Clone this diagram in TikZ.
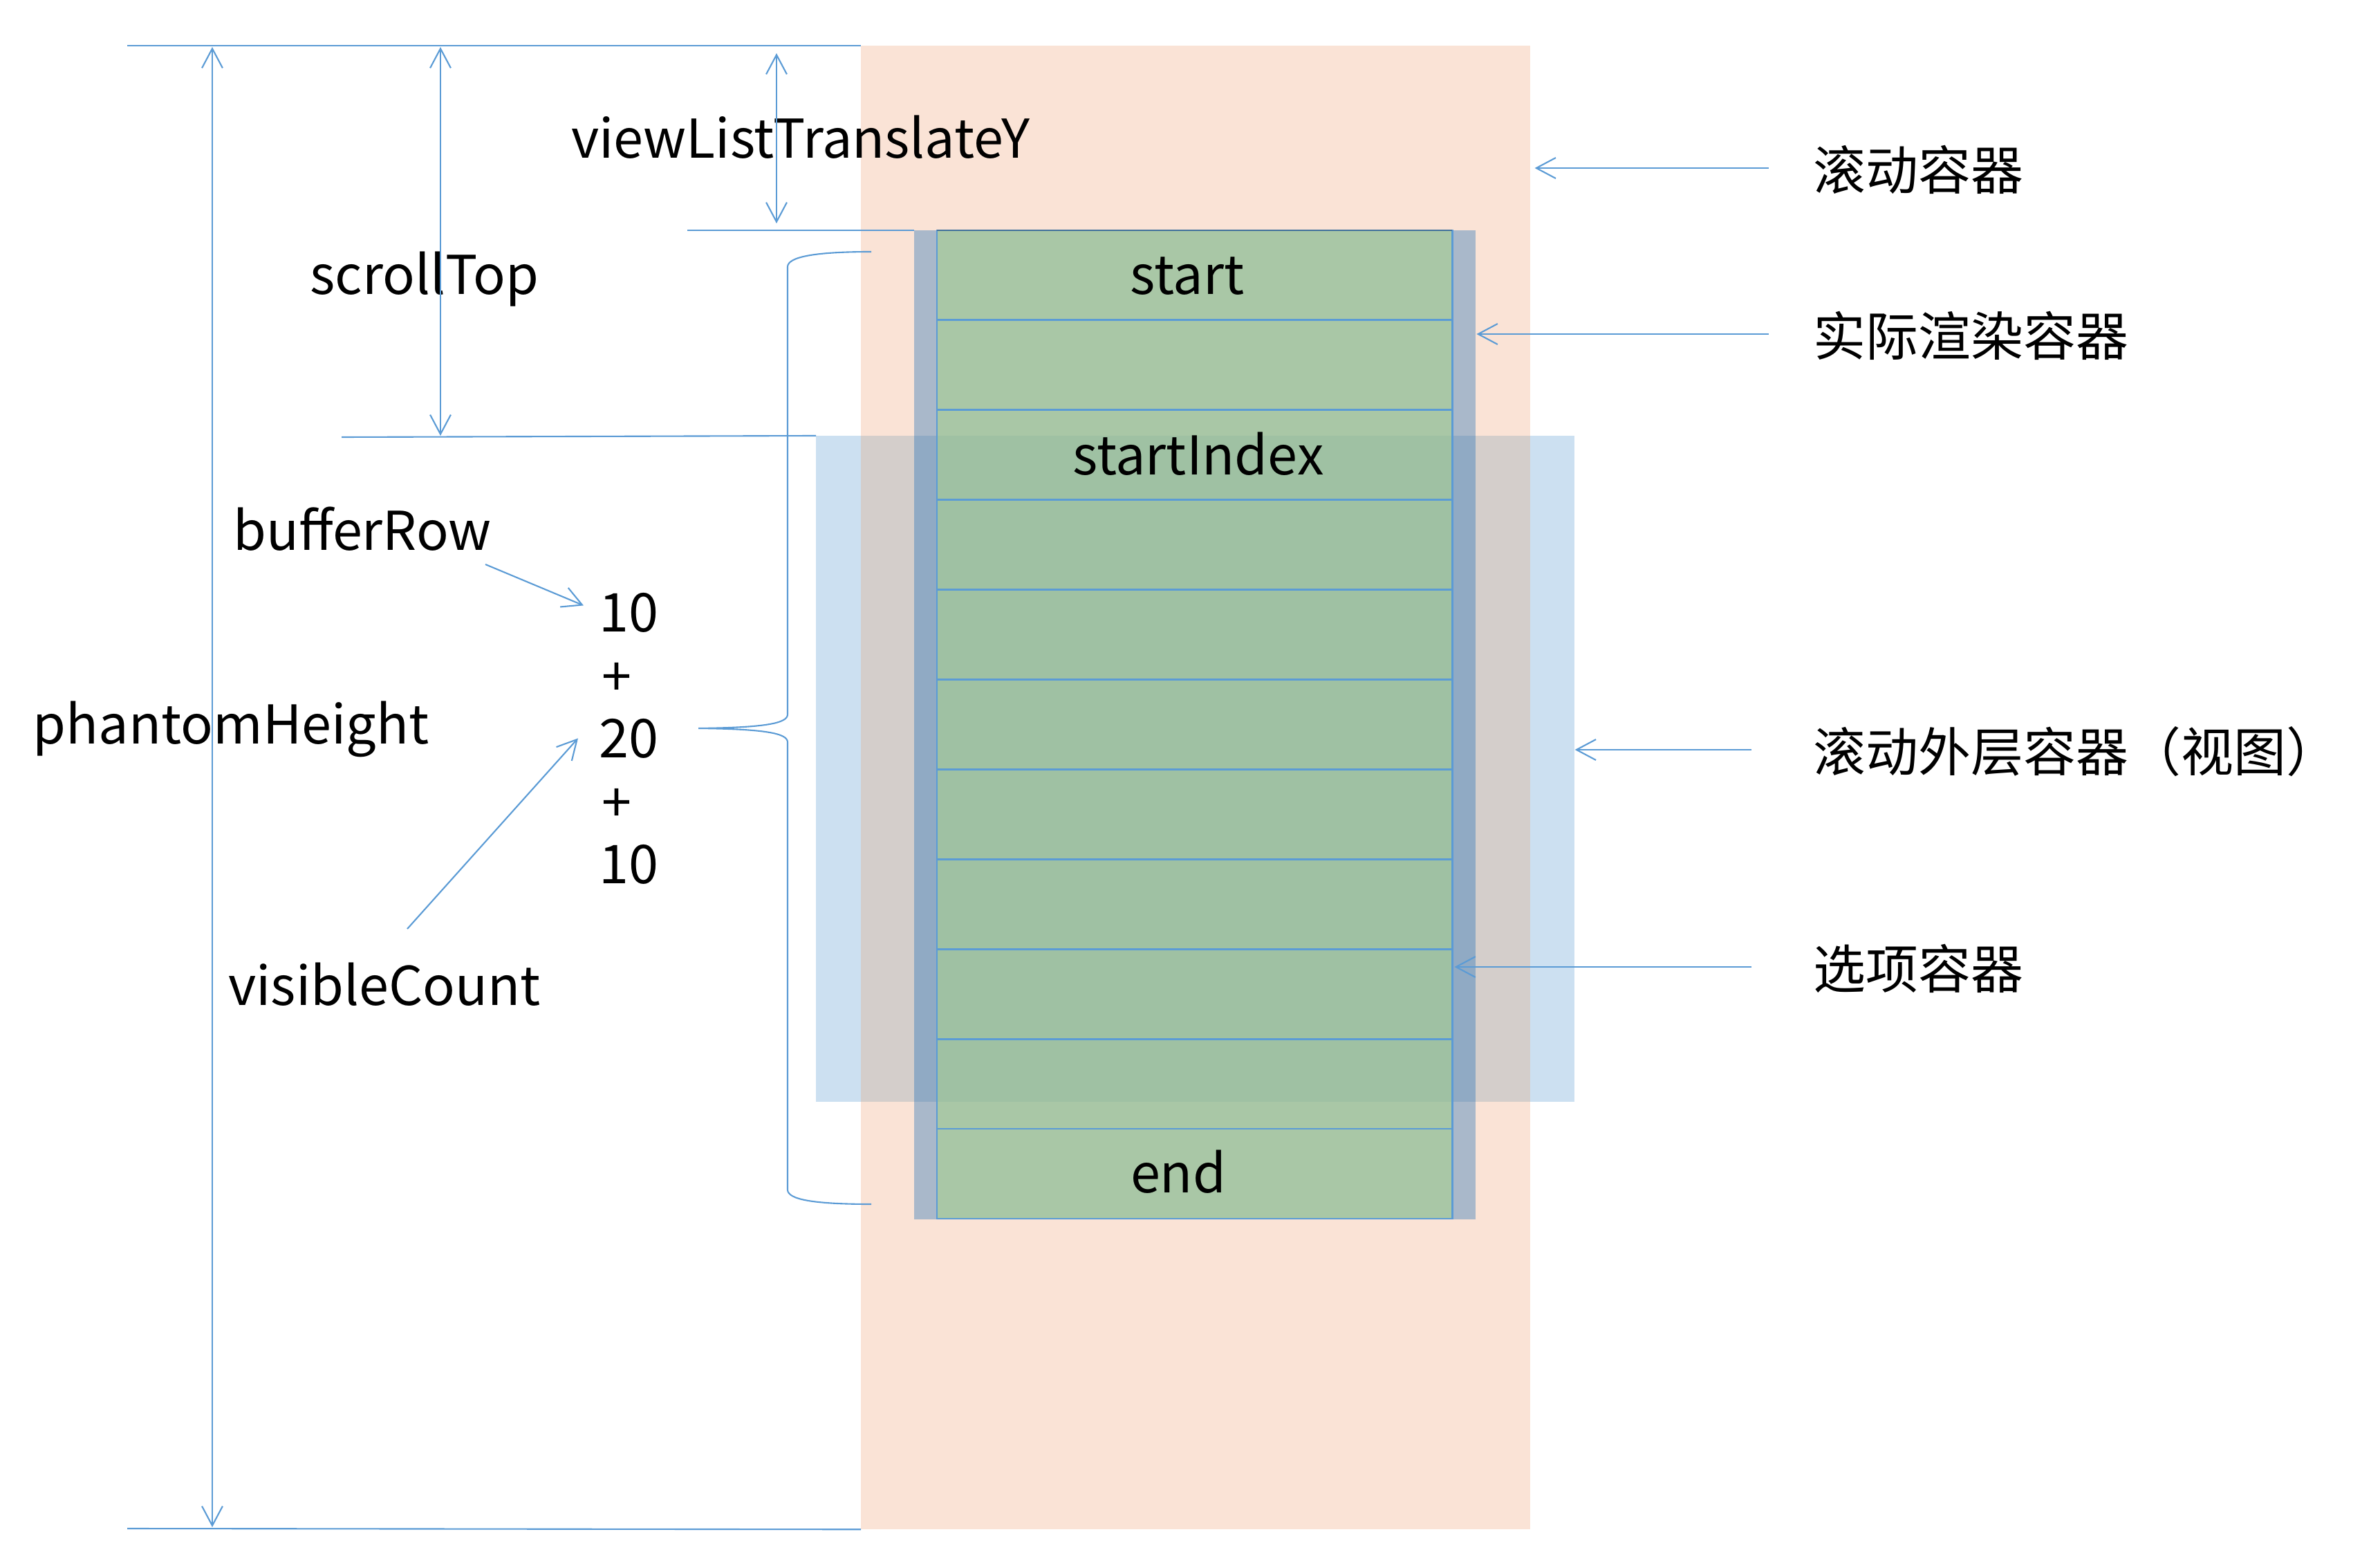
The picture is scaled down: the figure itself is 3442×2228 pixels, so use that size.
\documentclass[tikz,border=0pt]{standalone}
\usepackage{fontspec}
\setmainfont{Noto Sans CJK SC}
\usetikzlibrary{arrows.meta,calc}
\definecolor{lineblue}{HTML}{5B9BD5}
\definecolor{darkblue}{HTML}{41719C}
\definecolor{scrollbg}{HTML}{FAE3D6}
\definecolor{viewbg}{HTML}{CCE0F1}
\definecolor{viewscroll}{HTML}{D4CECB}
\definecolor{renderbg}{HTML}{A9B8CA}
\definecolor{renderview}{HTML}{90AAC4}
\definecolor{itembg}{HTML}{A9C7A6}
\definecolor{itemview}{HTML}{9FC1A3}
\begin{document}
\begin{tikzpicture}[x=0.01cm,y=-0.01cm,
  lbl/.style={inner sep=0pt, font=\fontsize{22pt}{26pt}\selectfont},
  cjklbl/.style={inner sep=0pt, font=\fontsize{21.6pt}{26pt}\selectfont},
  conn/.style={draw=lineblue, line width=0.6pt},
  tipto/.style={conn, -{Straight Barb[length=8pt,width=8.5pt]}},
  bitip/.style={conn, {Straight Barb[length=8pt,width=8.5pt]}-{Straight Barb[length=8pt,width=8.5pt]}},
  area/.style={inner sep=0pt, outer sep=0pt, anchor=north west, draw=none},
  rowbox/.style={draw=lineblue, line width=0.8pt, inner sep=0pt, outer sep=0pt, anchor=north west, minimum width=7.45cm, minimum height=1.299cm}]
\useasboundingbox (0,0) rectangle (3442,2228);
% containers
\node[area, fill=viewbg, minimum width=10.96cm, minimum height=9.62cm] (view) at (1180,630) {};
\node[area, fill=scrollbg, minimum width=9.67cm, minimum height=21.44cm] (scroll) at (1245,66) {};
\fill[viewscroll] (scroll.west |- view.north) rectangle (scroll.east |- view.south);
\node[area, fill=renderbg, minimum width=8.12cm, minimum height=14.29cm] (render) at (1322,333) {};
\fill[renderview] (render.west |- view.north) rectangle (render.east |- view.south);
\node[area, fill=itembg, minimum width=7.45cm, minimum height=14.29cm] (items) at (1355,333) {};
\fill[itemview] (items.west |- view.north) rectangle (items.east |- view.south);
\foreach \i in {1,...,11} {
  \node[rowbox] (row\i) at (1355,{333+(\i-1)*129.9}) {};
}
\draw[darkblue, line width=0.8pt] (items.north west) -- (items.north east);
% list texts
\node[lbl, anchor=base] (tstart) at (1717,426) {start};
\node[lbl, anchor=base] (tsi) at (1733,687) {startIndex};
\node[lbl, anchor=base] (tend) at (1704,1724) {end};
% left labels
\node[lbl, anchor=base] (vlty) at (1158,229) {viewListTranslateY};
\node[lbl, anchor=base] (stop) at (614,426) {scrollTop};
\node[lbl, anchor=base] (buf) at (524,795) {bufferRow};
\node[lbl, anchor=base] (ph) at (334,1075) {phantomHeight};
\node[lbl, anchor=base] (vc) at (556,1453) {visibleCount};
\node[lbl, anchor=base west] (n10a) at (866,913) {10};
\node[lbl, anchor=base west] (p1) at (870,1006) {+};
\node[lbl, anchor=base west] (n20) at (866,1095) {20};
\node[lbl, anchor=base west] (p2) at (870,1188) {+};
\node[lbl, anchor=base west] (n10b) at (866,1277) {10};
% right labels
\node[cjklbl, anchor=west] (lscroll) at (2622,245) {滚动容器};
\node[cjklbl, anchor=west] (lrender) at (2622,485) {实际渲染容器};
\node[cjklbl, anchor=west] (lview) at (2622,1087) {滚动外层容器（视图）};
\node[cjklbl, anchor=west] (litems) at (2622,1400) {选项容器};
% dimension lines
\coordinate (topL) at (184,66);
\coordinate (botL) at (184,2210);
\coordinate (stL) at (494,632);
\coordinate (vlL) at (994,333);
\draw[conn] (topL) -- (scroll.north west);
\draw[conn] (botL) -- (scroll.south west);
\draw[conn] (stL) -- (view.north west);
\draw[conn] (vlL) -- (render.north west);
\coordinate (phA) at (307,68);
\coordinate (phB) at (307,2208);
\draw[bitip] (phA) -- (phB);
\coordinate (stA) at (637,68);
\coordinate (stB) at (637,630);
\draw[bitip] (stA) -- (stB);
\coordinate (vlA) at (1123,77);
\coordinate (vlB) at (1123,323);
\draw[bitip] (vlA) -- (vlB);
% arrows to numbers
\coordinate (bufA) at (702,816);
\coordinate (vcA) at (589,1343);
\draw[tipto] (bufA) -- ($(n10a.west)+(-22,-10)$);
\draw[tipto] (vcA) -- ($(n20.west)+(-30,0)$);
% brace
\coordinate (btip) at (1010,1053);
\draw[conn] (1260,364) .. controls (1175,364) and (1139,372) .. (1139,386)
  -- (1139,1033) .. controls (1139,1046) and (1105,1052) .. (btip)
  .. controls (1105,1054) and (1139,1060) .. (1139,1073)
  -- (1139,1720) .. controls (1139,1734) and (1175,1741) .. (1260,1741);
% right arrows
\draw[tipto] ($(lscroll.west)+(-64,-2)$) -- ($(scroll.east |- lscroll.west)+(7,-2)$);
\draw[tipto] ($(lrender.west)+(-64,-2)$) -- ($(render.east |- lrender.west)+(1,-2)$);
\draw[tipto] ($(lview.west)+(-89,-3)$) -- ($(view.east |- lview.west)+(1,-3)$);
\draw[tipto] ($(litems.west)+(-89,-2)$) -- ($(items.east |- litems.west)+(3,-2)$);
\end{tikzpicture}
\end{document}
